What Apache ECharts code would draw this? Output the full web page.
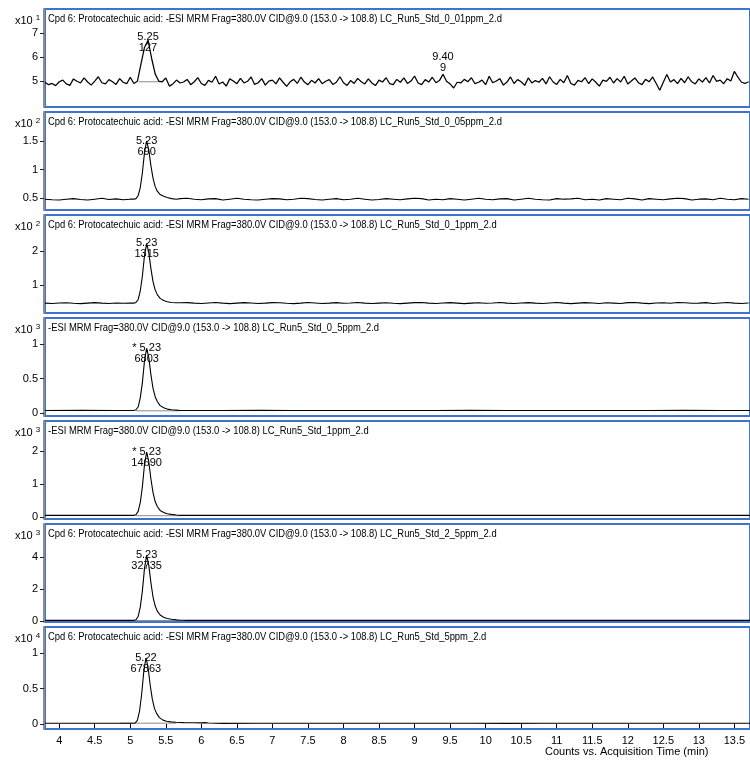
<!DOCTYPE html>
<html><head><meta charset="utf-8">
<script src="https://cdn.jsdelivr.net/npm/echarts@6/dist/echarts.min.js"></script>
<style>html,body{margin:0;padding:0;background:#fff}#c{width:750px;height:761px}</style>
</head><body><div id="c"></div>
<script>
// ---------- DATA ----------
const xTicks = [4,4.5,5,5.5,6,6.5,7,7.5,8,8.5,9,9.5,10,10.5,11,11.5,12,12.5,13,13.5];
const xAxisName = 'Counts vs. Acquisition Time (min)';
const panelTitles = [
  'Cpd 6: Protocatechuic acid: -ESI MRM Frag=380.0V CID@9.0 (153.0 -> 108.8) LC_Run5_Std_0_01ppm_2.d',
  'Cpd 6: Protocatechuic acid: -ESI MRM Frag=380.0V CID@9.0 (153.0 -> 108.8) LC_Run5_Std_0_05ppm_2.d',
  'Cpd 6: Protocatechuic acid: -ESI MRM Frag=380.0V CID@9.0 (153.0 -> 108.8) LC_Run5_Std_0_1ppm_2.d',
  '-ESI MRM Frag=380.0V CID@9.0 (153.0 -> 108.8) LC_Run5_Std_0_5ppm_2.d',
  '-ESI MRM Frag=380.0V CID@9.0 (153.0 -> 108.8) LC_Run5_Std_1ppm_2.d',
  'Cpd 6: Protocatechuic acid: -ESI MRM Frag=380.0V CID@9.0 (153.0 -> 108.8) LC_Run5_Std_2_5ppm_2.d',
  'Cpd 6: Protocatechuic acid: -ESI MRM Frag=380.0V CID@9.0 (153.0 -> 108.8) LC_Run5_Std_5ppm_2.d'
];
const panelExponents = ['1','2','2','3','3','3','4'];
const yTickValues = [[5,6,7],[0.5,1,1.5],[1,2],[0,0.5,1],[0,1,2],[0,2,4],[0,0.5,1]];

// Panel 1: sampled every 0.05 min from 3.80 min
const p1Start = 3.8, p1Step = 0.05;
const p1Signal = [
  4.95,4.85,4.90,4.81,4.97,5.04,4.88,4.82,5.09,4.99,4.92,5.13,4.96,4.83,5.00,5.18,4.93,4.88,5.06,4.97,
  4.86,5.10,4.95,4.89,5.16,4.90,4.99,5.70,6.40,6.70,5.95,5.30,5.00,4.97,5.13,4.79,4.88,5.04,4.92,4.96,
  5.07,4.85,4.97,5.14,4.90,4.82,5.03,4.95,5.20,4.88,4.96,4.79,5.09,5.00,4.89,5.11,4.92,4.99,5.17,4.86,
  4.93,5.10,4.83,5.00,5.04,4.88,5.13,4.95,4.78,4.97,5.07,4.90,5.16,4.96,4.85,5.03,4.92,5.10,4.89,4.99,
  5.06,4.86,4.95,5.18,4.93,4.82,5.02,4.90,5.11,4.97,4.88,5.09,4.92,4.81,5.04,4.96,5.14,4.89,4.85,5.07,
  4.95,5.13,4.90,5.00,5.21,4.92,4.85,5.06,4.96,5.16,4.93,5.02,5.28,4.99,4.88,4.71,4.95,4.92,5.07,4.97,
  5.14,4.89,4.95,5.04,4.85,5.20,4.93,5.00,5.10,4.83,4.96,5.17,4.90,5.06,4.97,4.82,5.13,4.92,5.02,4.95,
  5.11,4.88,5.18,4.96,4.86,5.07,4.93,5.23,4.90,4.83,5.03,4.97,5.14,4.89,5.09,4.95,4.79,5.04,4.99,5.16,
  4.92,5.10,4.96,5.20,4.88,5.00,5.13,4.93,4.85,5.07,4.97,5.17,4.90,4.62,4.95,5.27,4.96,5.06,4.89,5.11,
  4.93,5.18,4.97,4.88,5.09,4.96,5.14,4.92,5.23,4.99,5.04,4.89,5.10,5.00,5.40,5.16,4.95,4.90,4.97
];
const p1IntBase = [[5.12,4.97],[5.42,4.97]];

// Panels 2-3: baseline sampled every 0.1 min from 3.80 min, plus peak points
const fineStart = 3.8, fineStep = 0.1;
const p2Baseline = [
  0.48,0.47,0.465,0.48,0.49,0.475,0.465,0.48,0.495,0.475,
  0.485,0.47,0.48,0.475,0.48,0.48,0.48,0.48,0.48,0.49,
  0.495,0.48,0.47,0.485,0.49,0.465,0.48,0.495,0.48,0.47,
  0.465,0.48,0.49,0.485,0.47,0.48,0.495,0.49,0.475,0.465,
  0.48,0.49,0.47,0.48,0.495,0.48,0.465,0.475,0.49,0.48,
  0.47,0.485,0.495,0.49,0.465,0.48,0.47,0.49,0.48,0.465,
  0.48,0.495,0.48,0.47,0.485,0.49,0.465,0.48,0.495,0.48,
  0.47,0.465,0.49,0.48,0.485,0.495,0.47,0.48,0.465,0.49,
  0.48,0.47,0.495,0.485,0.465,0.49,0.48,0.47,0.485,0.495,
  0.49,0.465,0.48,0.485,0.47,0.495,0.48,0.47,0.49,0.48
];
const p2Peak = [[5.05,0.48],[5.08,0.49],[5.11,0.54],[5.14,0.68],[5.17,0.94],[5.20,1.30],[5.23,1.50],[5.26,1.35],[5.29,1.07],[5.32,0.85],[5.35,0.70],[5.38,0.62],[5.42,0.56],[5.47,0.53],[5.52,0.51],[5.58,0.49],[5.65,0.48]];
const p3Baseline = [
  0.47,0.46,0.475,0.48,0.465,0.455,0.47,0.485,0.47,0.46,
  0.475,0.465,0.47,0.47,0.47,0.47,0.47,0.47,0.47,0.48,
  0.485,0.47,0.46,0.475,0.49,0.47,0.455,0.47,0.485,0.475,
  0.46,0.47,0.485,0.48,0.465,0.455,0.47,0.49,0.475,0.46,
  0.47,0.485,0.465,0.475,0.49,0.47,0.46,0.47,0.48,0.465,
  0.455,0.47,0.485,0.49,0.47,0.46,0.475,0.485,0.47,0.455,
  0.47,0.48,0.465,0.475,0.49,0.47,0.46,0.475,0.485,0.47,
  0.46,0.475,0.49,0.47,0.455,0.47,0.485,0.475,0.46,0.48,
  0.47,0.46,0.485,0.49,0.47,0.455,0.475,0.48,0.465,0.49,
  0.48,0.465,0.47,0.485,0.46,0.475,0.49,0.47,0.46,0.475
];
const p3Peak = [[5.05,0.47],[5.08,0.49],[5.11,0.57],[5.14,0.82],[5.17,1.26],[5.20,1.87],[5.23,2.22],[5.26,1.96],[5.29,1.49],[5.32,1.10],[5.35,0.86],[5.38,0.72],[5.42,0.61],[5.47,0.55],[5.52,0.51],[5.58,0.49],[5.65,0.48]];

// Panels 4-7: flat baseline every 0.5 min from 3.80 min, plus peak points
const coarseStart = 3.8, coarseStep = 0.5;
const p4Baseline = [0.04,0.041,0.04,0.039,0.04,0.04,0.041,0.04,0.04,0.039,0.04,0.04,0.041,0.04,0.04,0.04,0.039,0.04,0.041,0.04,0.04];
const p4Peak = [[5.05,0.04],[5.08,0.05],[5.11,0.09],[5.14,0.22],[5.17,0.44],[5.20,0.76],[5.23,0.94],[5.26,0.81],[5.29,0.56],[5.32,0.36],[5.35,0.24],[5.38,0.17],[5.42,0.11],[5.47,0.08],[5.52,0.06],[5.58,0.05],[5.65,0.045],[5.70,0.04]];
const p4IntBase = [[5.08,0.035],[5.68,0.035]];
const p5Baseline = [0.05,0.05,0.051,0.05,0.049,0.05,0.05,0.051,0.05,0.05,0.049,0.05,0.05,0.051,0.05,0.05,0.05,0.049,0.05,0.05,0.05];
const p5Peak = [[5.05,0.05],[5.08,0.07],[5.11,0.17],[5.14,0.43],[5.17,0.91],[5.20,1.59],[5.23,1.97],[5.26,1.68],[5.29,1.16],[5.32,0.74],[5.35,0.47],[5.38,0.32],[5.42,0.20],[5.47,0.14],[5.52,0.10],[5.58,0.08],[5.65,0.06],[5.70,0.05]];
const p5IntBase = [[5.08,0.04],[5.70,0.04]];
const p6Baseline = [0.04,0.04,0.041,0.04,0.04,0.039,0.04,0.04,0.041,0.04,0.04,0.04,0.039,0.04,0.04,0.041,0.04,0.04,0.04,0.039,0.04];
const p6Peak = [[5.05,0.04],[5.08,0.08],[5.11,0.28],[5.14,0.85],[5.17,1.87],[5.20,3.29],[5.23,4.10],[5.26,3.49],[5.29,2.40],[5.32,1.50],[5.35,0.95],[5.38,0.62],[5.42,0.38],[5.47,0.24],[5.52,0.16],[5.58,0.11],[5.65,0.07],[5.70,0.05]];
const p6IntBase = [[5.07,0.03],[5.70,0.03]];
const p7Baseline = [0.01,0.011,0.01,0.01,0.01,0.009,0.01,0.01,0.011,0.01,0.01,0.01,0.01,0.009,0.01,0.01,0.011,0.01,0.01,0.01,0.01];
const p7Peak = [[5.04,0.01],[5.07,0.015],[5.10,0.05],[5.13,0.18],[5.16,0.42],[5.19,0.74],[5.22,0.93],[5.25,0.80],[5.28,0.55],[5.31,0.35],[5.34,0.22],[5.37,0.15],[5.41,0.09],[5.46,0.055],[5.51,0.04],[5.57,0.03],[5.64,0.025],[5.75,0.02],[5.90,0.018],[6.00,0.016],[6.05,0.02],[6.07,0.03],[6.10,0.015],[6.20,0.01]];
const p7IntBase = [[4.85,0.012],[5.65,0.012]];

// Peak annotations (retention time / area)
const peakTimes = [[5.25,9.40],[5.23],[5.23],[5.23],[5.23],[5.23],[5.22]];
const peakHeights = [[6.70,5.28],[1.50],[2.22],[0.94],[1.97],[4.10],[0.93]];
const peakRtText = [['5.25','9.40'],['5.23'],['5.23'],['* 5.23'],['* 5.23'],['5.23'],['5.22']];
const peakAreaText = [['127','9'],['690'],['1315'],['6803'],['14690'],['32735'],['67863']];

// ---------- LAYOUT ----------
const FONT = '"Liberation Sans", Arial, sans-serif';
const layout = {
  tops: [9,112,215,318,421,524,627],
  heights: [98,98,98,98,98,98,102],
  yMin: [3.92,0.29,0.18,-0.04,-0.06,-0.06,-0.07],
  yMax: [8.0,2.01,3.06,1.38,2.91,6.06,1.366],
  xMin: 3.8, xMax: 13.72,
  labelDy: [[2,-12],[5],[5],[5],[5],[5],[5]],
  titleScaleX: 0.855
};

function uniform(start, step, values) {
  return values.map((v, i) => [+(start + i * step).toFixed(3), v]);
}
function merge(start, step, baseline, peak) {
  const t0 = peak[0][0], t1 = peak[peak.length - 1][0];
  const pts = uniform(start, step, baseline).filter(p => p[0] < t0 || p[0] > t1).concat(peak);
  return pts.sort((a, b) => a[0] - b[0]);
}
const traces = [
  uniform(p1Start, p1Step, p1Signal),
  merge(fineStart, fineStep, p2Baseline, p2Peak),
  merge(fineStart, fineStep, p3Baseline, p3Peak),
  merge(coarseStart, coarseStep, p4Baseline, p4Peak),
  merge(coarseStart, coarseStep, p5Baseline, p5Peak),
  merge(coarseStart, coarseStep, p6Baseline, p6Peak),
  merge(coarseStart, coarseStep, p7Baseline, p7Peak)
];
const intBases = [p1IntBase, null, null, p4IntBase, p5IntBase, p6IntBase, p7IntBase];

const grids = [], xAxes = [], yAxes = [], series = [], graphics = [];
for (let i = 0; i < 7; i++) {
  const last = i === 6;
  grids.push({left: 45, right: 0, top: layout.tops[i], height: layout.heights[i], show: true,
    borderColor: '#3f73cf', borderWidth: 2, backgroundColor: 'transparent'});
  xAxes.push({type: 'value', gridIndex: i, min: layout.xMin, max: layout.xMax, show: last,
    axisLine: {show: false}, splitLine: {show: false},
    axisTick: {show: last, customValues: xTicks, length: 4, lineStyle: {color: '#000'}},
    axisLabel: {show: last, customValues: xTicks, color: '#000', fontSize: 11, fontFamily: FONT, margin: 6}});
  yAxes.push({type: 'value', gridIndex: i, min: layout.yMin[i], max: layout.yMax[i], offset: 1,
    splitLine: {show: false},
    axisLine: {show: true, onZero: false, lineStyle: {color: '#8c8c8c', width: 2}},
    axisTick: {show: true, customValues: yTickValues[i], length: 4, lineStyle: {color: '#222'}},
    axisLabel: {customValues: yTickValues[i], color: '#000', fontSize: 11, fontFamily: FONT, margin: 6}});
  if (intBases[i]) {
    series.push({type: 'line', xAxisIndex: i, yAxisIndex: i, data: intBases[i], showSymbol: false,
      lineStyle: {color: '#8a8a8a', width: 1}, silent: true, z: 1});
  }
  series.push({type: 'line', xAxisIndex: i, yAxisIndex: i, data: traces[i], showSymbol: false,
    lineStyle: {color: '#000', width: i === 0 ? 1.25 : 1.1}, silent: true, z: 2,
    markPoint: {symbol: 'circle', symbolSize: 1, itemStyle: {color: 'rgba(0,0,0,0)'}, silent: true,
      data: peakTimes[i].map((t, k) => ({coord: [t, peakHeights[i][k]],
        label: {show: true, position: 'inside', offset: [0, layout.labelDy[i][k]],
          formatter: peakRtText[i][k] + '\n' + peakAreaText[i][k],
          color: '#000', fontSize: 11, lineHeight: 11, fontFamily: FONT}}))}});
  graphics.push({type: 'text', left: 48, top: layout.tops[i] + 4, silent: true,
    scaleX: layout.titleScaleX, originX: 0,
    style: {text: panelTitles[i], fill: '#000', font: '11px ' + FONT}});
  graphics.push({type: 'text', left: 15, top: layout.tops[i] + 5, silent: true,
    style: {text: '{a|x10}{b|' + panelExponents[i] + '}', fill: '#000',
      rich: {a: {fontSize: 11, fontFamily: FONT, lineHeight: 14, padding: [0, 3, 0, 0]},
             b: {fontSize: 8, fontFamily: FONT, verticalAlign: 'top', lineHeight: 14}}}});
}
graphics.push({type: 'text', left: 545, top: 746, silent: true,
  style: {text: xAxisName, fill: '#000', font: '11px ' + FONT}});

const chart = echarts.init(document.getElementById('c'), null, {renderer: 'canvas'});
chart.setOption({
  animation: false,
  backgroundColor: '#ffffff',
  grid: grids, xAxis: xAxes, yAxis: yAxes, series: series, graphic: graphics
});
</script></body></html>
